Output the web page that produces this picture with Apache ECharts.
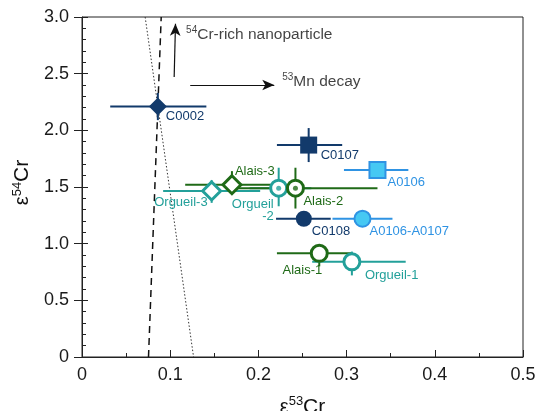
<!DOCTYPE html>
<html>
<head>
<meta charset="utf-8">
<script src="https://cdn.jsdelivr.net/npm/echarts@6/dist/echarts.min.js"></script>
<style>
  html, body { margin: 0; padding: 0; background: #fff; }
  #main { width: 540px; height: 411px; }
</style>
</head>
<body>
<div id="main"></div>
<script>
// sample values (e53Cr, e54Cr and error bar ends)
const sampleNames = ['C0002', 'C0107', 'A0106', 'Alais-3', 'Orgueil-3', 'Orgueil-2', 'Alais-2', 'C0108', 'A0106-A0107', 'Alais-1', 'Orgueil-1'];
const e53 = [0.086, 0.257, 0.335, 0.170, 0.147, 0.223, 0.242, 0.2515, 0.318, 0.269, 0.306];
const e54 = [2.21, 1.87, 1.65, 1.52, 1.465, 1.49, 1.49, 1.22, 1.22, 0.915, 0.84];
const e53Lo = [0.032, 0.221, 0.297, 0.117, 0.092, 0.19, 0.17, 0.220, 0.284, 0.221, 0.261];
const e53Hi = [0.141, 0.295, 0.370, 0.225, 0.202, 0.26, 0.335, 0.282, 0.352, 0.305, 0.367];
const e54Lo = [2.09, 1.72, 1.65, 1.46, 1.36, 1.33, 1.31, 1.22, 1.22, 0.80, 0.72];
const e54Hi = [2.33, 2.02, 1.65, 1.64, 1.56, 1.67, 1.67, 1.22, 1.22, 0.99, 0.93];

// reference lines through C0002
const dashedLine = [[0.0754, 0], [0.0898, 3.0]];
const dottedLine = [[0.0716, 3.0], [0.1265, 0]];

// arrows and their notes
const arrowUp = [[0.1045, 2.47], [0.106, 2.94]];
const arrowRight = [[0.1227, 2.40], [0.218, 2.40]];
const noteX = [0.118, 0.227];
const noteY = [2.84, 2.43];
const noteText = ['{s|54}{t|Cr-rich nanoparticle}', '{s|53}{t|Mn decay}'];

const navy = '#123a6b';
const green = '#1f6a17';
const teal = '#23a09a';
const sky = '#2f93e3';
const skyFill = '#46c8f3';

// marker style + label placement for each sample
const look = {
  'C0002': { c: navy, sym: 'diamond', size: 18, fill: navy, off: [8, 10], al: 'left' },
  'C0107': { c: navy, sym: 'rect', size: 17, fill: navy, off: [12, 10], al: 'left' },
  'A0106': { c: sky, sym: 'rect', size: 16, fill: skyFill, off: [10, 12], al: 'left' },
  'Alais-3': { c: green, sym: 'diamond', size: 18, fill: '#fff', off: [3, -13], al: 'left' },
  'Orgueil-3': { c: teal, sym: 'diamond', size: 18, fill: '#fff', off: [-4, 11], al: 'right' },
  'Orgueil-2': { c: teal, sym: 'circle', size: 16, fill: '#fff', off: [-5, 22], al: 'right', dot: true, text: 'Orgueil\n-2' },
  'Alais-2': { c: green, sym: 'circle', size: 16, fill: '#fff', off: [8, 13], al: 'left', dot: true },
  'C0108': { c: navy, sym: 'circle', size: 16, fill: navy, off: [8, 13], al: 'left' },
  'A0106-A0107': { c: sky, sym: 'circle', size: 16, fill: skyFill, off: [7, 13], al: 'left' },
  'Alais-1': { c: green, sym: 'circle', size: 16, fill: '#fff', off: [3, 17], al: 'right' },
  'Orgueil-1': { c: teal, sym: 'circle', size: 16, fill: '#fff', off: [13, 14], al: 'left' },
};

const fontFam = '"Liberation Sans", Arial, sans-serif';

const errData = sampleNames.map((n, i) => [e53[i], e54[i], e53Lo[i], e53Hi[i], e54Lo[i], e54Hi[i]]);

const markerSeries = sampleNames.map((n, i) => {
  const s = look[n];
  const hollow = s.fill === '#fff';
  return {
    name: n,
    type: 'scatter',
    z: 5,
    symbol: s.sym,
    symbolSize: s.size,
    data: [[e53[i], e54[i]]],
    itemStyle: {
      color: s.fill,
      borderColor: s.c,
      borderWidth: hollow ? 3 : (s.fill === skyFill ? 2 : 0),
      opacity: 1,
    },
    label: {
      show: true,
      position: 'inside',
      offset: s.off,
      align: s.al,
      verticalAlign: 'middle',
      formatter: s.text || n,
      color: s.c,
      fontSize: 13,
      lineHeight: 12,
      fontFamily: fontFam,
    },
    emphasis: { disabled: true },
  };
});

const dotSeries = {
  type: 'scatter',
  z: 6,
  symbol: 'circle',
  symbolSize: 5,
  data: sampleNames.filter((n) => look[n].dot).map((n) => {
    const i = sampleNames.indexOf(n);
    return { value: [e53[i], e54[i]], itemStyle: { color: look[n].c } };
  }),
  emphasis: { disabled: true },
};

const nameRich = {
  e: { fontSize: 20, fontFamily: fontFam, color: '#111', lineHeight: 24 },
  s: { fontSize: 13, fontFamily: fontFam, color: '#111', verticalAlign: 'top', lineHeight: 13 },
  t: { fontSize: 21, fontFamily: fontFam, color: '#111', lineHeight: 24 },
};

const option = {
  animation: false,
  backgroundColor: '#fff',
  grid: {
    left: 82,
    right: 17,
    top: 17,
    bottom: 54,
    outerBoundsMode: 'none',
    containLabel: false,
    show: true,
    borderColor: '#222',
    borderWidth: 1,
  },
  xAxis: {
    type: 'value',
    min: 0,
    max: 0.5,
    interval: 0.1,
    name: '{e|ε}{s|53}{t|Cr}',
    nameLocation: 'middle',
    nameGap: 38,
    nameTextStyle: { rich: nameRich },
    axisLine: { lineStyle: { color: '#222', width: 1 } },
    axisTick: { inside: true, length: 7, lineStyle: { color: '#222' } },
    minorTick: { show: true, splitNumber: 2, length: 4, lineStyle: { color: '#222' } },
    splitLine: { show: false },
    axisLabel: {
      fontSize: 18,
      fontFamily: fontFam,
      color: '#1a1a1a',
      margin: 9,
      formatter: (v) => (v === 0 ? '0' : String(+v.toFixed(1))),
    },
  },
  yAxis: [
    {
      type: 'value',
      min: 0,
      max: 3,
      interval: 0.5,
      name: '{e|ε}{s|54}{t|Cr}',
      nameLocation: 'middle',
      nameRotate: 90,
      nameGap: 32,
      nameTextStyle: { rich: nameRich, padding: [0, 0, 0, 9] },
      axisLine: { lineStyle: { color: '#222', width: 1 } },
      axisTick: { inside: true, length: 6, lineStyle: { color: '#222' } },
      minorTick: { show: true, splitNumber: 5, length: 4, lineStyle: { color: '#222' } },
      splitLine: { show: false },
      axisLabel: {
        fontSize: 18,
        fontFamily: fontFam,
        color: '#1a1a1a',
        margin: 13,
        formatter: (v) => (v === 0 ? '0' : v.toFixed(1)),
      },
    },
    {
      // outward half of the major ticks
      type: 'value',
      position: 'left',
      min: 0,
      max: 3,
      interval: 0.5,
      axisLine: { show: false },
      axisTick: { show: true, inside: false, length: 8, lineStyle: { color: '#222' } },
      axisLabel: { show: false },
      splitLine: { show: false },
    },
  ],
  series: [
    {
      type: 'line',
      data: dashedLine,
      symbol: 'none',
      z: 2,
      lineStyle: { color: '#111', width: 1.5, type: [7, 5] },
      markLine: {
        silent: true,
        symbol: ['none', 'arrow'],
        symbolSize: [8, 12],
        label: { show: false },
        lineStyle: { color: '#111', width: 1.2, type: 'solid' },
        data: [
          [{ coord: arrowUp[0] }, { coord: arrowUp[1] }],
          [{ coord: arrowRight[0] }, { coord: arrowRight[1] }],
        ],
      },
    },
    {
      type: 'line',
      data: dottedLine,
      symbol: 'none',
      z: 2,
      lineStyle: { color: '#333', width: 1, type: [1.5, 2] },
    },
    {
      type: 'custom',
      z: 3,
      data: errData,
      renderItem: (params, api) => {
        const c = look[sampleNames[params.dataIndex]].c;
        const pl = api.coord([api.value(2), api.value(1)]);
        const pr = api.coord([api.value(3), api.value(1)]);
        const pb = api.coord([api.value(0), api.value(4)]);
        const pt = api.coord([api.value(0), api.value(5)]);
        const st = { stroke: c, lineWidth: 2 };
        return {
          type: 'group',
          children: [
            { type: 'line', shape: { x1: pl[0], y1: pl[1], x2: pr[0], y2: pr[1] }, style: st },
            { type: 'line', shape: { x1: pb[0], y1: pb[1], x2: pt[0], y2: pt[1] }, style: st },
          ],
        };
      },
    },
    ...markerSeries,
    dotSeries,
    {
      type: 'scatter',
      symbolSize: 0,
      z: 4,
      data: noteX.map((x, i) => [x, noteY[i]]),
      label: {
        show: true,
        position: 'inside',
        align: 'left',
        verticalAlign: 'middle',
        formatter: (p) => noteText[p.dataIndex],
        rich: {
          s: { fontSize: 10, fontFamily: fontFam, color: '#111', verticalAlign: 'top', lineHeight: 10 },
          t: { fontSize: 15.5, fontFamily: fontFam, color: '#111', lineHeight: 19 },
        },
      },
      emphasis: { disabled: true },
    },
  ],
};

const chart = echarts.init(document.getElementById('main'));
chart.setOption(option);
</script>
</body>
</html>
